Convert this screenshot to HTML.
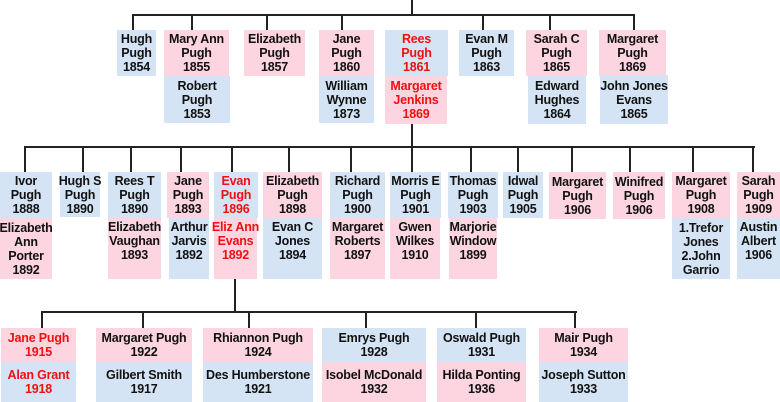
<!DOCTYPE html>
<html><head><meta charset="utf-8"><style>
body{margin:0;width:780px;height:402px;background:#fff;position:relative;overflow:hidden;font-family:"Liberation Sans",sans-serif;}
.b{position:absolute;display:flex;align-items:center;justify-content:center;text-align:center;font-size:12.5px;font-weight:bold;line-height:14px;color:#111;white-space:nowrap;letter-spacing:-0.2px}
.p{background:#fcd5e1}.u{background:#d5e4f4}.r{color:#f01010}
.h{position:absolute;background:#222;height:2px}.v{position:absolute;background:#222;width:2px}
</style></head><body>
<div class="v" style="left:411px;top:0;height:16px"></div>
<div class="h" style="left:132px;top:14px;width:503px"></div>
<div class="v" style="left:132px;top:14px;height:16px"></div>
<div class="v" style="left:191px;top:14px;height:16px"></div>
<div class="v" style="left:266px;top:14px;height:16px"></div>
<div class="v" style="left:341px;top:14px;height:16px"></div>
<div class="v" style="left:482px;top:14px;height:16px"></div>
<div class="v" style="left:549px;top:14px;height:16px"></div>
<div class="v" style="left:633px;top:14px;height:16px"></div>
<div class="b u" style="left:117px;top:30px;width:39px;height:46px">Hugh<br>Pugh<br>1854</div>
<div class="b p" style="left:164px;top:30px;width:65px;height:46px">Mary Ann<br>Pugh<br>1855</div>
<div class="b u" style="left:164px;top:76px;width:66px;height:47px">Robert<br>Pugh<br>1853</div>
<div class="b p" style="left:244px;top:30px;width:61px;height:46px">Elizabeth<br>Pugh<br>1857</div>
<div class="b p" style="left:319px;top:30px;width:55px;height:46px">Jane<br>Pugh<br>1860</div>
<div class="b u" style="left:319px;top:76px;width:55px;height:47px">William<br>Wynne<br>1873</div>
<div class="b u r" style="left:385px;top:30px;width:63px;height:46px">Rees<br>Pugh<br>1861</div>
<div class="b p r" style="left:385px;top:76px;width:62px;height:48px">Margaret<br>Jenkins<br>1869</div>
<div class="b u" style="left:459px;top:30px;width:55px;height:46px">Evan M<br>Pugh<br>1863</div>
<div class="b p" style="left:526px;top:30px;width:61px;height:46px">Sarah C<br>Pugh<br>1865</div>
<div class="b u" style="left:528px;top:76px;width:58px;height:48px">Edward<br>Hughes<br>1864</div>
<div class="b p" style="left:599px;top:30px;width:67px;height:46px">Margaret<br>Pugh<br>1869</div>
<div class="b u" style="left:600px;top:75px;width:68px;height:49px">John Jones<br>Evans<br>1865</div>
<div class="v" style="left:411px;top:124px;height:48px"></div>
<div class="h" style="left:24px;top:146px;width:731px"></div>
<div class="v" style="left:24px;top:146px;height:26px"></div>
<div class="v" style="left:82px;top:146px;height:26px"></div>
<div class="v" style="left:130px;top:146px;height:26px"></div>
<div class="v" style="left:180px;top:146px;height:26px"></div>
<div class="v" style="left:231px;top:146px;height:26px"></div>
<div class="v" style="left:288px;top:146px;height:26px"></div>
<div class="v" style="left:350px;top:146px;height:26px"></div>
<div class="v" style="left:470px;top:146px;height:26px"></div>
<div class="v" style="left:517px;top:146px;height:26px"></div>
<div class="v" style="left:571px;top:146px;height:26px"></div>
<div class="v" style="left:629px;top:146px;height:26px"></div>
<div class="v" style="left:692px;top:146px;height:26px"></div>
<div class="v" style="left:752px;top:146px;height:26px"></div>
<div class="b u" style="left:0;top:172px;width:52px;height:46px">Ivor<br>Pugh<br>1888</div>
<div class="b p" style="left:0;top:218px;width:52px;height:61px">Elizabeth<br>Ann<br>Porter<br>1892</div>
<div class="b u" style="left:60px;top:172px;width:40px;height:45px">Hugh S<br>Pugh<br>1890</div>
<div class="b u" style="left:108px;top:172px;width:53px;height:46px">Rees T<br>Pugh<br>1890</div>
<div class="b p" style="left:108px;top:218px;width:53px;height:61px;align-items:flex-start;padding-top:2px;box-sizing:border-box">Elizabeth<br>Vaughan<br>1893</div>
<div class="b p" style="left:167px;top:172px;width:42px;height:46px">Jane<br>Pugh<br>1893</div>
<div class="b u" style="left:169px;top:218px;width:40px;height:61px;align-items:flex-start;padding-top:2px;box-sizing:border-box">Arthur<br>Jarvis<br>1892</div>
<div class="b u r" style="left:214px;top:172px;width:44px;height:46px">Evan<br>Pugh<br>1896</div>
<div class="b p r" style="left:214px;top:218px;width:43px;height:61px;align-items:flex-start;padding-top:2px;box-sizing:border-box">Eliz Ann<br>Evans<br>1892</div>
<div class="b p" style="left:263px;top:172px;width:59px;height:46px">Elizabeth<br>Pugh<br>1898</div>
<div class="b u" style="left:263px;top:218px;width:59px;height:61px;align-items:flex-start;padding-top:2px;box-sizing:border-box">Evan C<br>Jones<br>1894</div>
<div class="b u" style="left:330px;top:172px;width:55px;height:46px">Richard<br>Pugh<br>1900</div>
<div class="b p" style="left:330px;top:218px;width:55px;height:61px;align-items:flex-start;padding-top:2px;box-sizing:border-box">Margaret<br>Roberts<br>1897</div>
<div class="b u" style="left:390px;top:172px;width:51px;height:46px">Morris E<br>Pugh<br>1901</div>
<div class="b p" style="left:390px;top:218px;width:50px;height:61px;align-items:flex-start;padding-top:2px;box-sizing:border-box">Gwen<br>Wilkes<br>1910</div>
<div class="b u" style="left:448px;top:172px;width:50px;height:46px">Thomas<br>Pugh<br>1903</div>
<div class="b p" style="left:449px;top:218px;width:48px;height:61px;align-items:flex-start;padding-top:2px;box-sizing:border-box">Marjorie<br>Window<br>1899</div>
<div class="b u" style="left:503px;top:172px;width:40px;height:46px">Idwal<br>Pugh<br>1905</div>
<div class="b p" style="left:549px;top:172px;width:57px;height:47px">Margaret<br>Pugh<br>1906</div>
<div class="b p" style="left:613px;top:172px;width:52px;height:47px">Winifred<br>Pugh<br>1906</div>
<div class="b p" style="left:672px;top:172px;width:58px;height:46px">Margaret<br>Pugh<br>1908</div>
<div class="b u" style="left:672px;top:218px;width:58px;height:61px">1.Trefor<br>Jones<br>2.John<br>Garrio</div>
<div class="b p" style="left:737px;top:172px;width:43px;height:46px">Sarah<br>Pugh<br>1909</div>
<div class="b u" style="left:737px;top:218px;width:43px;height:61px;align-items:flex-start;padding-top:2px;box-sizing:border-box">Austin<br>Albert<br>1906</div>
<div class="v" style="left:234px;top:279px;height:34px"></div>
<div class="h" style="left:41px;top:311px;width:536px"></div>
<div class="v" style="left:41px;top:311px;height:17px"></div>
<div class="v" style="left:142px;top:311px;height:17px"></div>
<div class="v" style="left:248px;top:311px;height:17px"></div>
<div class="v" style="left:365px;top:311px;height:17px"></div>
<div class="v" style="left:475px;top:311px;height:17px"></div>
<div class="v" style="left:574px;top:311px;height:17px"></div>
<div class="b p r" style="left:1px;top:328px;width:75px;height:34px">Jane Pugh<br>1915</div>
<div class="b u r" style="left:1px;top:362px;width:75px;height:40px">Alan Grant<br>1918</div>
<div class="b p" style="left:96px;top:328px;width:96px;height:34px">Margaret Pugh<br>1922</div>
<div class="b u" style="left:96px;top:362px;width:96px;height:40px">Gilbert Smith<br>1917</div>
<div class="b p" style="left:203px;top:328px;width:110px;height:34px">Rhiannon Pugh<br>1924</div>
<div class="b u" style="left:203px;top:362px;width:110px;height:40px">Des Humberstone<br>1921</div>
<div class="b u" style="left:322px;top:328px;width:104px;height:34px">Emrys Pugh<br>1928</div>
<div class="b p" style="left:322px;top:362px;width:104px;height:40px">Isobel McDonald<br>1932</div>
<div class="b u" style="left:437px;top:328px;width:89px;height:34px">Oswald Pugh<br>1931</div>
<div class="b p" style="left:437px;top:362px;width:89px;height:40px">Hilda Ponting<br>1936</div>
<div class="b p" style="left:539px;top:328px;width:89px;height:34px">Mair Pugh<br>1934</div>
<div class="b u" style="left:539px;top:362px;width:89px;height:40px">Joseph Sutton<br>1933</div>
</body></html>
